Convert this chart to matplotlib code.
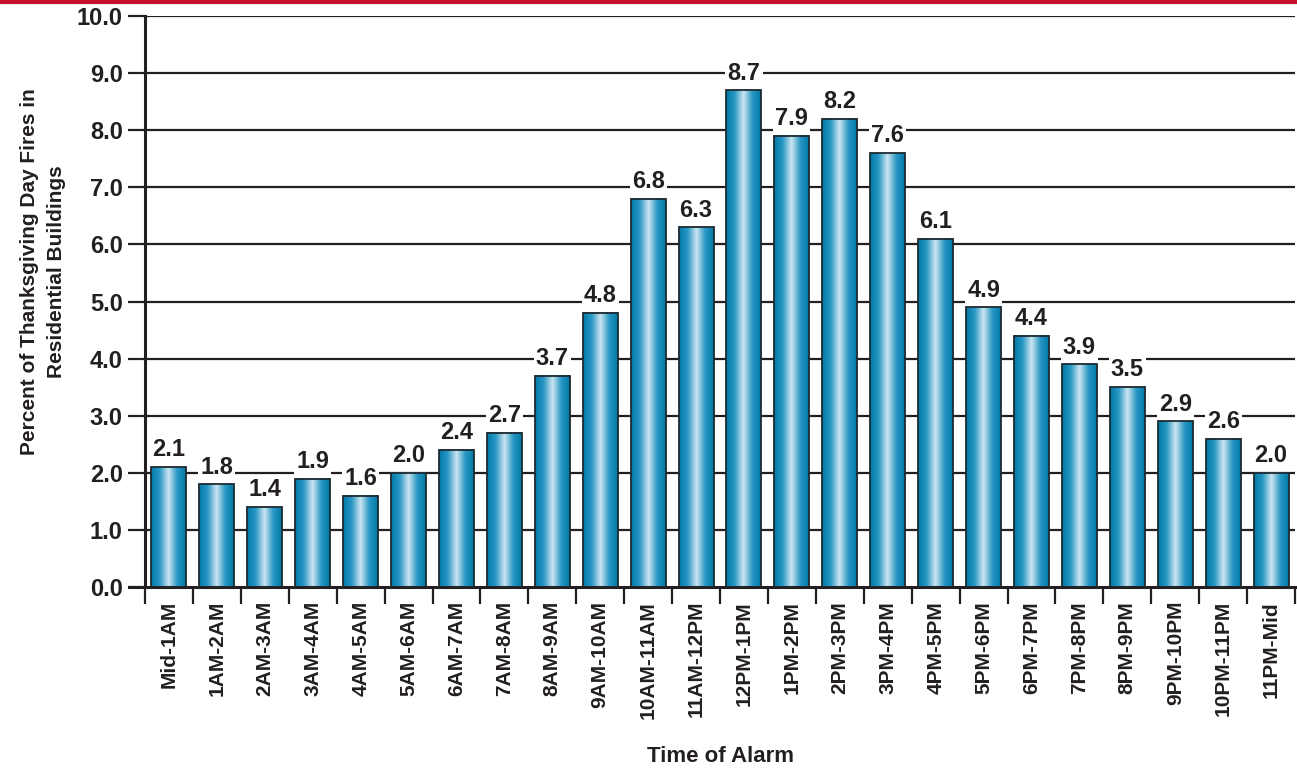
import numpy as np
import matplotlib.pyplot as plt
from matplotlib.colors import LinearSegmentedColormap
from matplotlib.patches import Rectangle
from matplotlib.lines import Line2D

labels = ['Mid-1AM', '1AM-2AM', '2AM-3AM', '3AM-4AM', '4AM-5AM', '5AM-6AM',
          '6AM-7AM', '7AM-8AM', '8AM-9AM', '9AM-10AM', '10AM-11AM', '11AM-12PM',
          '12PM-1PM', '1PM-2PM', '2PM-3PM', '3PM-4PM', '4PM-5PM', '5PM-6PM',
          '6PM-7PM', '7PM-8PM', '8PM-9PM', '9PM-10PM', '10PM-11PM', '11PM-Mid']
values = [2.1, 1.8, 1.4, 1.9, 1.6, 2.0, 2.4, 2.7, 3.7, 4.8, 6.8, 6.3,
          8.7, 7.9, 8.2, 7.6, 6.1, 4.9, 4.4, 3.9, 3.5, 2.9, 2.6, 2.0]

plt.rcParams['font.family'] = ['Liberation Sans', 'DejaVu Sans']
plt.rcParams['font.weight'] = 'bold'

fig = plt.figure(figsize=(12.97, 7.72), dpi=100)
ax = fig.add_axes([0.1118, 0.2396, 0.8867, 0.7396])

# red rule across the top
fig.add_artist(Line2D([0, 1], [0.998, 0.998], transform=fig.transFigure,
                      color='#C8102E', linewidth=3))

n = len(values)

for y in np.arange(1, 10.5, 1):
    ax.axhline(y, color='#231f20', linewidth=1.6, zorder=1)

cmap = LinearSegmentedColormap.from_list('bar', ['#0079A8', '#2A98C4', '#CDE6F2', '#2A98C4', '#0079A8'])
grad = np.linspace(0, 1, 200).reshape(1, -1)
w = 0.73
for i, v in enumerate(values):
    x0 = i + (1 - w) / 2
    ax.imshow(grad, cmap=cmap, aspect='auto', extent=[x0, x0 + w, 0, v],
              zorder=2, interpolation='bicubic')
    ax.add_patch(Rectangle((x0, 0), w, v, fill=False, edgecolor='#1e2a30',
                           linewidth=1.3, zorder=3))
    ax.text(i + 0.5, v + 0.1, f'{v:.1f}', ha='center', va='bottom', fontsize=17,
            fontweight='bold', color='#231f20', zorder=4,
            bbox=dict(facecolor='white', edgecolor='none', pad=1.5))

ax.set_xlim(0, n)
ax.set_ylim(0, 10)

ax.set_yticks(np.arange(0, 10.5, 1))
ax.set_yticklabels([f'{t:.1f}' for t in np.arange(0, 10.5, 1)], fontsize=17,
                   fontweight='bold', color='#231f20')
ax.tick_params(axis='y', length=12, width=1.6, color='#231f20', pad=4)

ax.set_xticks(np.arange(n) + 0.5)
ax.set_xticklabels(labels, rotation=90, fontsize=15, fontweight='bold', color='#231f20')
ax.set_xticks(np.arange(0, n + 1), minor=True)
ax.tick_params(axis='x', which='major', length=0, pad=10)
ax.tick_params(axis='x', which='minor', length=12, width=1.6, color='#231f20')

for s in ['top', 'right']:
    ax.spines[s].set_visible(False)
ax.spines['left'].set_linewidth(2.2)
ax.spines['bottom'].set_linewidth(2.2)
ax.spines['left'].set_color('#231f20')
ax.spines['bottom'].set_color('#231f20')
ax.spines['bottom'].set_bounds(-0.33, n)

fig.text(0.0332, 0.6477, 'Percent of Thanksgiving Day Fires in\nResidential Buildings',
         rotation=90, ha='center', va='center', fontsize=15, fontweight='bold',
         linespacing=1.55, color='#231f20', multialignment='center')
ax.set_xlabel('Time of Alarm', fontsize=16, fontweight='bold', labelpad=20, color='#231f20')

plt.savefig('out.png', dpi=100)
